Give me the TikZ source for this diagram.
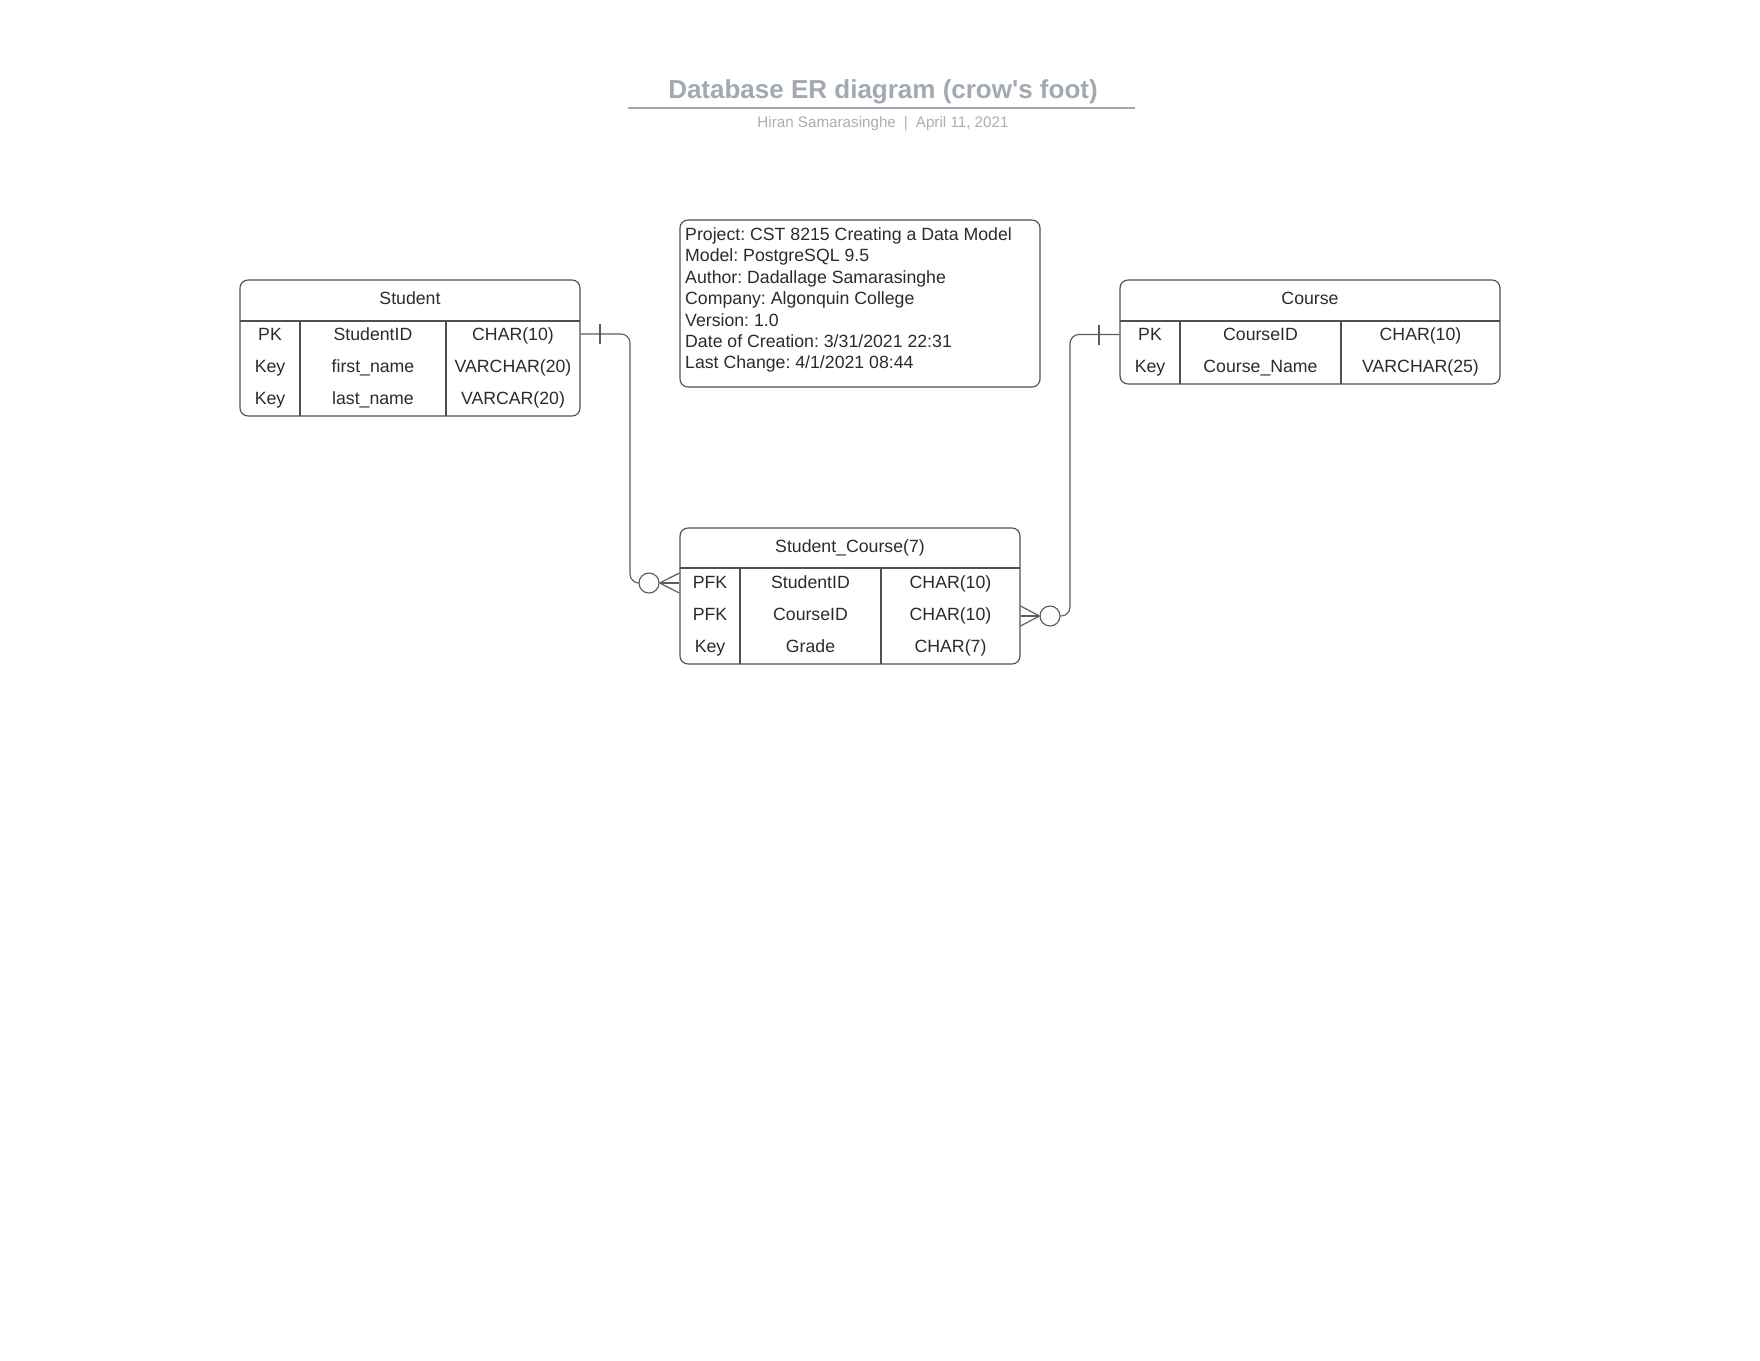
\documentclass[tikz,border=0pt]{standalone}
\usepackage{fontspec}
\setmainfont{Liberation Sans}
\usetikzlibrary{calc}
\frenchspacing

\definecolor{txt}{HTML}{2B2B2B}
\definecolor{edge}{HTML}{505050}
\definecolor{wire}{HTML}{5C5C5C}
\definecolor{titlegray}{HTML}{A3A9B1}
\definecolor{subgray}{HTML}{A9AEB5}

\begin{document}
\begin{tikzpicture}[x=1pt, y=-1pt,
  cell/.style={inner sep=0pt, text height=12.7pt, text depth=0pt,
    font=\fontsize{17.7}{21}\selectfont, text=txt},
  infoline/.style={inner sep=0pt, anchor=base west,
    font=\fontsize{17.7}{21}\selectfont, text=txt},
  frame/.style={draw=edge, line width=1.15pt, rounded corners=8pt,
    inner sep=0pt, minimum width=#1},
  rule/.style={draw=edge, line width=1.15pt},
  link/.style={draw=wire, line width=1.15pt},
  ring/.style={circle, draw=wire, line width=1.15pt, fill=white,
    minimum size=20pt, inner sep=0pt},
]
\useasboundingbox (0,0) rectangle (1760,1360);

% ---------- heading ----------
\node[inner sep=0pt, text height=18.6pt, text depth=0pt, text=titlegray,
  font=\fontsize{26}{30}\selectfont\bfseries] (title) at (883,89)
  {Database ER diagram (crow\textquotesingle s foot)};
\draw[draw=titlegray, line width=1.3pt] (628,108) -- (1135,108);
\node[inner sep=0pt, text height=10.9pt, text depth=0pt, text=subgray,
  font=\fontsize{15.2}{18}\selectfont] (subtitle) at (883,122.5)
  {Hiran Samarasinghe\hspace{8pt}|\hspace{8pt}April 11, 2021};

% ---------- Student ----------
\node[frame=340pt, minimum height=136pt] (student) at (410,348) {};
\draw[rule] (240,321) -- (580,321);
\draw[rule] (300,321) -- (300,416);
\draw[rule] (446,321) -- (446,416);
\node[cell] (st-h) at (410,298) {Student};
\node[cell] (st-k1) at (270,334) {PK};
\node[cell] (st-n1) at (373,334) {StudentID};
\node[cell] (st-t1) at (513,334) {CHAR(10)};
\node[cell] (st-k2) at (270,366) {Key};
\node[cell] (st-n2) at (373,366) {first\_name};
\node[cell] (st-t2) at (513,366) {VARCHAR(20)};
\node[cell] (st-k3) at (270,398) {Key};
\node[cell] (st-n3) at (373,398) {last\_name};
\node[cell] (st-t3) at (513,398) {VARCAR(20)};

% ---------- Course ----------
\node[frame=380pt, minimum height=104pt] (course) at (1310,332) {};
\draw[rule] (1120,321) -- (1500,321);
\draw[rule] (1180,321) -- (1180,384);
\draw[rule] (1341,321) -- (1341,384);
\node[cell] (co-h) at (1310,298) {Course};
\node[cell] (co-k1) at (1150,334.5) {PK};
\node[cell] (co-n1) at (1260.5,334.5) {CourseID};
\node[cell] (co-t1) at (1420.5,334.5) {CHAR(10)};
\node[cell] (co-k2) at (1150,366.5) {Key};
\node[cell] (co-n2) at (1260.5,366.5) {Course\_Name};
\node[cell] (co-t2) at (1420.5,366.5) {VARCHAR(25)};

% ---------- Student_Course ----------
\node[frame=340pt, minimum height=136pt] (sc) at (850,596) {};
\draw[rule] (680,568) -- (1020,568);
\draw[rule] (740,568) -- (740,664);
\draw[rule] (881,568) -- (881,664);
\node[cell] (sc-h) at (850,546) {Student\_Course(7)};
\node[cell] (sc-k1) at (710,582) {PFK};
\node[cell] (sc-n1) at (810.5,582) {StudentID};
\node[cell] (sc-t1) at (950.5,582) {CHAR(10)};
\node[cell] (sc-k2) at (710,614.5) {PFK};
\node[cell] (sc-n2) at (810.5,614.5) {CourseID};
\node[cell] (sc-t2) at (950.5,614.5) {CHAR(10)};
\node[cell] (sc-k3) at (710,646.5) {Key};
\node[cell] (sc-n3) at (810.5,646.5) {Grade};
\node[cell] (sc-t3) at (950.5,646.5) {CHAR(7)};

% ---------- model information ----------
\node[frame=360pt, minimum height=167pt] (info) at (860,303.5) {};
\foreach \txt [count=\i] in {
    Project: CST 8215 Creating a Data Model,
    Model: PostgreSQL 9.5,
    Author: Dadallage Samarasinghe,
    Company: Algonquin College,
    Version: 1.0,
    Date of Creation: 3/31/2021 22:31,
    Last Change: 4/1/2021 08:44}
  \node[infoline] (info-\i) at (685,240.5+21.4*\i-21.4) {\txt};

% ---------- Student 1 -- 0..n Student_Course ----------
\node[ring] (ringL) at (649,583) {};
\draw[link, rounded corners=9pt] (st-t1 -| student.east) -| (630,583) -- (ringL.west);
\draw[link] (600,324) -- (600,344);
\draw[link] (ringL.east) -- ($(ringL.east -| sc.west)+(0,-10)$);
\draw[link] (ringL.east) -- (ringL.east -| sc.west);
\draw[link] (ringL.east) -- ($(ringL.east -| sc.west)+(0,10)$);

% ---------- Course 1 -- 0..n Student_Course ----------
\node[ring] (ringR) at (1050,616) {};
\draw[link, rounded corners=9pt] (co-t1 -| course.west) -| (1070,616) -- (ringR.east);
\draw[link] (1099,325) -- (1099,345);
\draw[link] (ringR.west) -- ($(ringR.west -| sc.east)+(0,-10)$);
\draw[link] (ringR.west) -- (ringR.west -| sc.east);
\draw[link] (ringR.west) -- ($(ringR.west -| sc.east)+(0,10)$);
\end{tikzpicture}
\end{document}
